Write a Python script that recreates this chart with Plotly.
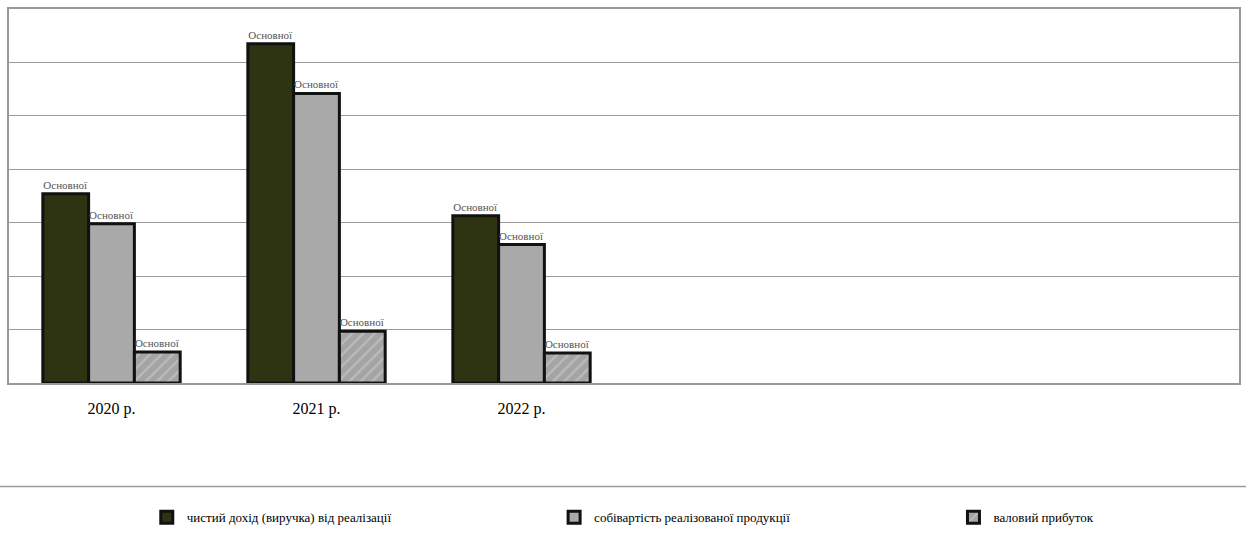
import plotly.graph_objects as go

categories = ["2020 р.", "2021 р.", "2022 р."]
series_names = [
    "чистий дохід (виручка) від реалізації",
    "собівартість реалізованої продукції",
    "валовий прибуток",
]
revenue = [3.54, 6.35, 3.13]
cost = [2.98, 5.42, 2.59]
gross_profit = [0.58, 0.97, 0.56]
bar_label = "Основної"

x_pos = [0, 1, 2]
SERIF = "Liberation Serif, Times New Roman, DejaVu Serif, serif"

fig = go.Figure()
common = dict(
    text=[bar_label] * 3,
    textposition="outside",
    textfont=dict(family=SERIF, size=11, color="#555555"),
    cliponaxis=False,
)
fig.add_trace(go.Bar(
    x=x_pos, y=revenue, name=series_names[0], legend="legend",
    marker=dict(color="#2e3312", line=dict(color="#111111", width=3)),
    **common))
fig.add_trace(go.Bar(
    x=x_pos, y=cost, name=series_names[1], legend="legend2",
    marker=dict(color="#a9a9a9", line=dict(color="#111111", width=3)),
    **common))
fig.add_trace(go.Bar(
    x=x_pos, y=gross_profit, name=series_names[2], legend="legend3",
    marker=dict(color="#a4a4a4", line=dict(color="#111111", width=3),
                pattern=dict(shape="/", fgcolor="#d0d0d0", bgcolor="#a4a4a4",
                             size=8, solidity=0.3)),
    **common))

def leg(px_left, fam):
    return dict(
        orientation="h", x=(px_left - 9) / 1232, xanchor="left",
        y=(383 - 518) / 376, yanchor="middle",
        font=dict(family=fam, size=13, color="#000000"),
        itemwidth=30, bgcolor="rgba(0,0,0,0)", borderwidth=0,
    )

fig.update_layout(
    width=1248, height=540,
    margin=dict(l=9, r=7, t=7, b=157),
    paper_bgcolor="white", plot_bgcolor="white",
    barmode="group", bargap=0.33, bargroupgap=0,
    font=dict(family=SERIF, color="#000000"),
    showlegend=True,
    legend=leg(147, "serif"),
    legend2=leg(555, "Times New Roman"),
    legend3=leg(955, "Liberation Serif"),
    xaxis=dict(
        range=[-0.5, 5.5], tickmode="array", tickvals=x_pos, ticktext=categories,
        tickfont=dict(family="serif", size=16, color="#000000"),
        showgrid=False, showline=True, linecolor="#999999", linewidth=1.5,
        mirror=True, ticks="outside", ticklen=10, tickcolor="rgba(0,0,0,0)",
        zeroline=False,
    ),
    yaxis=dict(
        range=[0, 7], dtick=1, showticklabels=False, showgrid=True,
        gridcolor="#9a9a9a", gridwidth=1.2, showline=True, linecolor="#999999",
        linewidth=1.5, mirror=True, ticks="", zeroline=False,
    ),
    shapes=[dict(
        type="line", xref="paper", yref="paper",
        x0=-9 / 1232, x1=1239 / 1232, y0=(383 - 487) / 376, y1=(383 - 487) / 376,
        line=dict(color="#9a9a9a", width=1.5),
    )],
)

fig.write_html("out.html")
